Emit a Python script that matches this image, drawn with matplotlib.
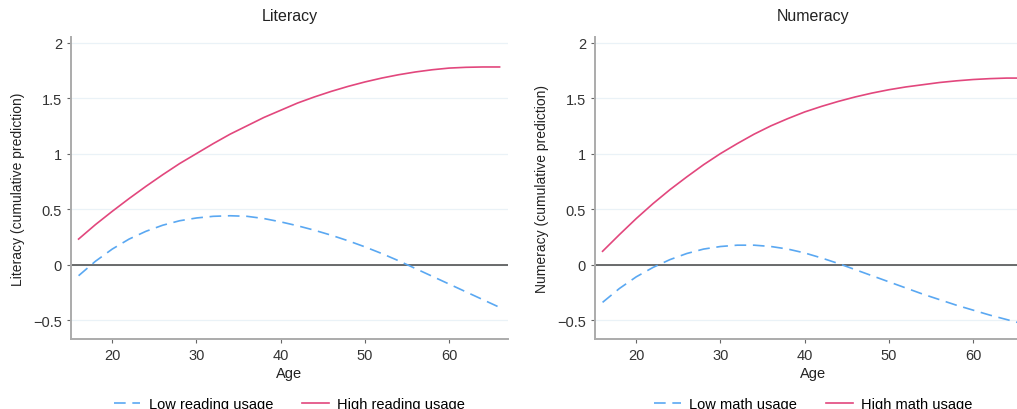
import matplotlib.pyplot as plt

plt.rcParams["font.family"] = ["Liberation Sans", "DejaVu Sans"]

age = [16, 18, 20, 22, 24, 26, 28, 30, 32, 34, 36, 38, 40,
       42, 44, 46, 48, 50, 52, 54, 56, 58, 60, 62, 64, 66]

# Literacy panel
lit_low = [-0.10, 0.03, 0.14, 0.23, 0.30, 0.355, 0.395, 0.42, 0.435, 0.44, 0.435, 0.415, 0.385,
           0.35, 0.31, 0.265, 0.215, 0.16, 0.10, 0.035, -0.035, -0.105, -0.175, -0.245, -0.315, -0.385]
lit_high = [0.23, 0.36, 0.48, 0.595, 0.705, 0.81, 0.91, 1.00, 1.09, 1.175, 1.25, 1.325, 1.39,
            1.455, 1.51, 1.56, 1.605, 1.645, 1.68, 1.71, 1.735, 1.755, 1.77, 1.777, 1.78, 1.78]

# Numeracy panel
num_low = [-0.34, -0.215, -0.11, -0.025, 0.045, 0.10, 0.14, 0.163, 0.175, 0.175, 0.163, 0.14, 0.105,
           0.06, 0.01, -0.045, -0.10, -0.155, -0.21, -0.265, -0.315, -0.365, -0.41, -0.455, -0.495, -0.535]
num_high = [0.12, 0.27, 0.415, 0.55, 0.675, 0.79, 0.90, 1.00, 1.09, 1.175, 1.25, 1.315, 1.375,
            1.425, 1.47, 1.51, 1.545, 1.575, 1.60, 1.62, 1.64, 1.655, 1.667, 1.675, 1.68, 1.68]

x_ticks = [20, 30, 40, 50, 60]
y_ticks = [-0.5, 0, 0.5, 1, 1.5, 2]
y_ticklabels = ["\u22120.5", "0", "0.5", "1", "1.5", "2"]

BLUE = "#5aa8f2"
PINK = "#e2477d"
GRID = "#eaf2f7"
SPINE = "#ababab"

panels = [
    ("Literacy", "Literacy (cumulative prediction)", lit_low, lit_high,
     "Low reading usage", "High reading usage", [71 / 1017, 70 / 410, 437 / 1017, 302 / 410]),
    ("Numeracy", "Numeracy (cumulative prediction)", num_low, num_high,
     "Low math usage", "High math usage", [595 / 1017, 70 / 410, 437 / 1017, 302 / 410]),
]

fig = plt.figure(figsize=(10.17, 4.1), dpi=100)

for title, ylabel, low, high, low_lab, high_lab, pos in panels:
    ax = fig.add_axes(pos)
    ax.plot(age, low, color=BLUE, lw=1.2, ls=(0, (7, 4)), label=low_lab)
    ax.plot(age, high, color=PINK, lw=1.2, label=high_lab)
    ax.axhline(0, color="#444444", lw=1.1, zorder=1)

    ax.set_xlim(15.1, 67)
    ax.set_ylim(-0.67, 2.05)
    ax.set_xticks(x_ticks)
    ax.set_yticks(y_ticks)
    ax.set_yticklabels(y_ticklabels)
    ax.grid(axis="y", color=GRID, lw=0.9)
    ax.set_axisbelow(True)

    for side in ("top", "right"):
        ax.spines[side].set_visible(False)
    for side in ("left", "bottom"):
        ax.spines[side].set_color(SPINE)
        ax.spines[side].set_linewidth(1.4)
    ax.tick_params(labelcolor="#333333", labelsize=10.5, length=3, width=0.8, color="#666666")

    ax.set_title(title, fontsize=11.5, color="#222222", pad=12)
    ax.set_xlabel("Age", fontsize=10.5, color="#222222", labelpad=3)
    ax.set_ylabel(ylabel, fontsize=10, color="#222222", labelpad=6)

    ax.legend(loc="center", bbox_to_anchor=(0.5, -0.215), ncol=2, frameon=False,
              fontsize=10.5, handlelength=1.8, handletextpad=0.6, columnspacing=2.0)

fig.savefig("out.png", dpi=100, facecolor="white")
